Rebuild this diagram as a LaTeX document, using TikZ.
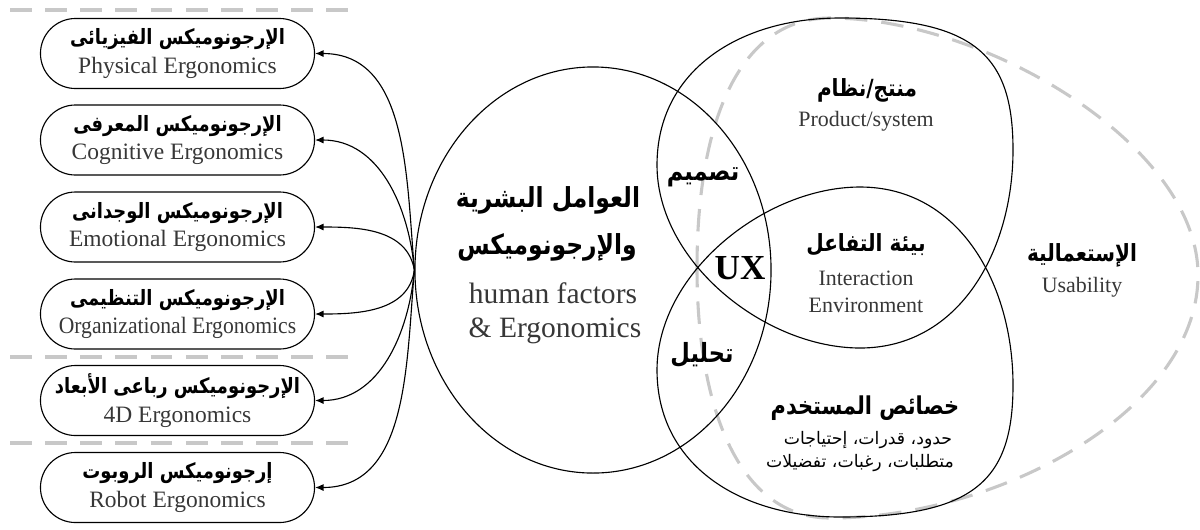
\documentclass[tikz,border=0pt]{standalone}
\usepackage{fontspec}
\setmainfont{Liberation Serif}
\newfontfamily\arabicfont[Script=Arabic]{DejaVu Sans}
\TeXXeTstate=1
\usetikzlibrary{shapes.misc,shapes.geometric,arrows.meta}

\definecolor{dashgray}{RGB}{200,200,200}
\definecolor{txtgray}{RGB}{55,55,55}

% Arabic text, bold (narrowed) and regular
\newcommand{\arb}[1]{\scalebox{0.85}[1]{\arabicfont\bfseries\beginR #1\endR}}
\newcommand{\arn}[1]{{\arabicfont\beginR #1\endR}}
\newcommand{\boxar}[1]{{\fontsize{15}{17}\selectfont\arb{#1}}}

\begin{document}
\begin{tikzpicture}[x=0.025cm, y=-0.025cm,
    ergobox/.style={rounded rectangle, draw, line width=0.8pt,
      minimum width=6.85cm, minimum height=1.75cm, inner sep=0pt,
      align=center, font=\fontsize{16.7}{20.5}\selectfont},
    entxt/.style={text=txtgray, font=\fontsize{15.6}{18}\selectfont, inner sep=0pt},
    enbig/.style={text=txtgray, font=\fontsize{21}{24}\selectfont, inner sep=0pt},
    armid/.style={font=\fontsize{16.8}{19}\selectfont, inner sep=0pt},
    arbig/.style={font=\fontsize{19.6}{22}\selectfont, inner sep=0pt},
    arsmall/.style={font=\fontsize{12.3}{14}\selectfont, inner sep=0pt},
    sepline/.style={dashgray, line width=2.8pt, dash pattern=on 15.5pt off 9.5pt},
    flow/.style={line width=0.8pt, -{Latex[length=6pt,width=5pt]}},
    vennline/.style={line width=0.8pt}]

  \useasboundingbox (0,0) rectangle (1200,529);

  % Separators between the groups of boxes
  \draw[sepline] (10,10) -- (352,10);
  \draw[sepline] (10,357) -- (352,357);
  \draw[sepline] (10,443) -- (352,443);

  % Branches of ergonomics
  \node[ergobox] (physical) at (177.5,53.5)
    {\boxar{الإرجونوميكس الفيزيائى}\\{\color{txtgray}Physical Ergonomics}};
  \node[ergobox] (cognitive) at (177.5,140)
    {\boxar{الإرجونوميكس المعرفى}\\{\color{txtgray}Cognitive Ergonomics}};
  \node[ergobox] (emotional) at (177.5,227)
    {\boxar{الإرجونوميكس الوجدانى}\\{\color{txtgray}Emotional Ergonomics}};
  \node[ergobox] (organizational) at (177.5,314)
    {\boxar{الإرجونوميكس التنظيمى}\\{\color{txtgray}\scalebox{0.92}[1]{Organizational Ergonomics}}};
  \node[ergobox] (fourd) at (177.5,400.5)
    {\boxar{الإرجونوميكس رباعى الأبعاد}\\{\color{txtgray}4D Ergonomics}};
  \node[ergobox] (robot) at (177.5,487.5)
    {\boxar{إرجونوميكس الروبوت}\\{\color{txtgray}Robot Ergonomics}};

  % Usability (dashed)
  \draw[dashgray, line width=2.2pt, dash pattern=on 16pt off 10pt]
    (697,268) .. controls (697,120) and (740,18) .. (830,18)
    .. controls (985,18) and (1198,145) .. (1198,275)
    .. controls (1198,410) and (1000,518) .. (830,518)
    .. controls (740,518) and (697,410) .. (697,268);

  % Human factors ellipse
  \node[ellipse, draw, line width=0.8pt, minimum width=8.9cm, minimum height=10.15cm,
    inner sep=0pt] (humanf) at (593,270) {};

  % Product/system and user characteristics
  \draw[vennline] (860,348) .. controls (765,348) and (657,262) .. (657,165)
    .. controls (657,70) and (740,18) .. (840,18)
    .. controls (975,18) and (1013,55) .. (1013,150)
    .. controls (1013,250) and (960,348) .. (860,348);
  \draw[vennline] (860,187) .. controls (765,187) and (657,273) .. (657,370)
    .. controls (657,465) and (740,517) .. (840,517)
    .. controls (975,517) and (1013,480) .. (1013,385)
    .. controls (1013,285) and (960,187) .. (860,187);

  % Arrows to the branches
  \foreach \b/\o in {physical/95, cognitive/95, emotional/100,
                     organizational/262, fourd/265, robot/265}
    \draw[flow] (humanf.west) to[out=\o, in=0] (\b.east);

  % Labels
  \node[arbig] (hfar) at (548,200) {\arb{العوامل البشرية}};
  \node[arbig] (hfar2) at (547,247) {\arb{والإرجونوميكس}};
  \node[enbig] (hfen) at (553,293) {human factors};
  \node[enbig] (hfen2) at (555,331) {\& Ergonomics};

  \node[armid, font=\fontsize{18.8}{21}\selectfont] (design) at (703,177) {\arb{تصميم}};
  \node[inner sep=0pt, font=\fontsize{25}{28}\selectfont\bfseries] (ux) at (740,268) {UX};
  \node[armid, font=\fontsize{18.8}{21}\selectfont] (analysis) at (702,355) {\arb{تحليل}};

  \node[armid] (prodar) at (867,90) {\arb{منتج/نظام}};
  \node[entxt] (proden) at (866,121) {Product/system};

  \node[armid] (interar) at (866,245) {\arb{بيئة التفاعل}};
  \node[entxt] (interen) at (866,278) {Interaction};
  \node[entxt] (interen2) at (866,305) {Environment};

  \node[armid] (usabar) at (1082,255) {\arb{الإستعمالية}};
  \node[entxt] (usaben) at (1082,287) {Usability};

  \node[armid, font=\fontsize{17.5}{19}\selectfont] (userar) at (865,408) {\arb{خصائص المستخدم}};
  \node[arsmall] (userl1) at (868,440) {\arn{حدود، قدرات، إحتياجات}};
  \node[arsmall] (userl2) at (860,463) {\arn{متطلبات، رغبات، تفضيلات}};
\end{tikzpicture}
\end{document}
